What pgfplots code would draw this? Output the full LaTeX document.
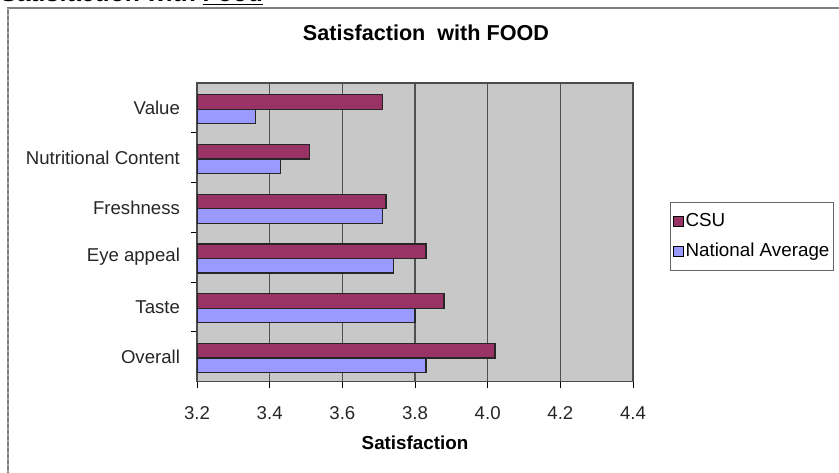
\documentclass[border=0pt]{standalone}
\usepackage{pgfplots}
\pgfplotsset{compat=1.18}
\usepackage{fontspec}
\setmainfont{Liberation Sans}
\definecolor{csu}{RGB}{153,51,102}
\definecolor{nat}{RGB}{153,153,255}
\definecolor{plotbg}{RGB}{200,200,200}
\definecolor{gridc}{RGB}{80,80,80}

\pgfplotstableread{
idx csu  nat
0   4.02 3.83
1   3.88 3.80
2   3.83 3.74
3   3.72 3.71
4   3.51 3.43
5   3.71 3.36
}\foodtable

\begin{document}
\begin{tikzpicture}[x=0.5pt,y=-0.5pt]
\useasboundingbox (0,0) rectangle (839,472);
% page heading, cut off at the top as in the scan
\node[anchor=base west,inner sep=0pt,font=\fontsize{12.3}{14}\selectfont\bfseries] at (0,1.5)
  {Satisfaction with \underline{Food}};
% outer chart frame
\draw[gray,line width=0.6pt] (8,500) -- (8,8) -- (850,8);
\draw[gray!70,dotted,line width=1pt] (8,8) -- (8,480);
% chart title
\node[font=\fontsize{10.8}{12}\selectfont\bfseries] at (426,33) {Satisfaction\ \ with FOOD};
\coordinate (plotsw) at (197,381.5);
\begin{axis}[
  at={(plotsw)}, anchor=south west,
  scale only axis, width=218pt, height=149.25pt,
  xbar, bar width=7.25pt,
  xmin=3.2, xmax=4.4, ymin=-0.5, ymax=5.5,
  xtick={3.2,3.4,...,4.4},
  xticklabels={3.2,3.4,3.6,3.8,4.0,4.2,4.4},
  ytick={0,...,5},
  yticklabels={Overall,Taste,Eye appeal,Freshness,Nutritional Content,Value},
  minor ytick={0.5,1.5,...,4.5},
  xtick pos=bottom, ytick pos=left,
  tick align=outside,
  major tick length=3pt, minor tick length=3pt,
  major y tick style={draw=none},
  minor y tick style={draw=black,line width=0.5pt},
  x tick style={black,line width=0.5pt},
  xmajorgrids, major x grid style={gridc,line width=0.6pt},
  axis background/.style={fill=plotbg},
  axis line style={black!70,line width=0.6pt},
  tick label style={font=\fontsize{9.3}{11}\selectfont, text=black!85},
  /pgf/number format/assume math mode=true,
  xticklabel style={yshift=-6pt},
  yticklabel style={xshift=-2pt},
  xlabel={\bfseries Satisfaction},
  xlabel style={font=\fontsize{9.4}{11}\selectfont, yshift=-1pt},
  legend style={at={(1.085,0.603)}, anchor=north west, draw=black!60,
    line width=0.5pt, font=\fontsize{9.4}{11}\selectfont,
    inner xsep=1pt, inner ysep=4.5pt, row sep=5pt,
    legend cell align=left, nodes={inner sep=1pt}},
  legend image code/.code={\draw[#1,draw=black,line width=0.5pt] (0cm,-2.5pt) rectangle (5pt,2.5pt);},
]
\addplot[draw=black!85,line width=0.6pt,fill=csu,bar shift=2.9pt] table[x=csu,y=idx] {\foodtable};
\addlegendentry{CSU}
\addplot[draw=black!85,line width=0.6pt,fill=nat,bar shift=-4.35pt] table[x=nat,y=idx] {\foodtable};
\addlegendentry{National Average}
\end{axis}
\end{tikzpicture}
\end{document}
